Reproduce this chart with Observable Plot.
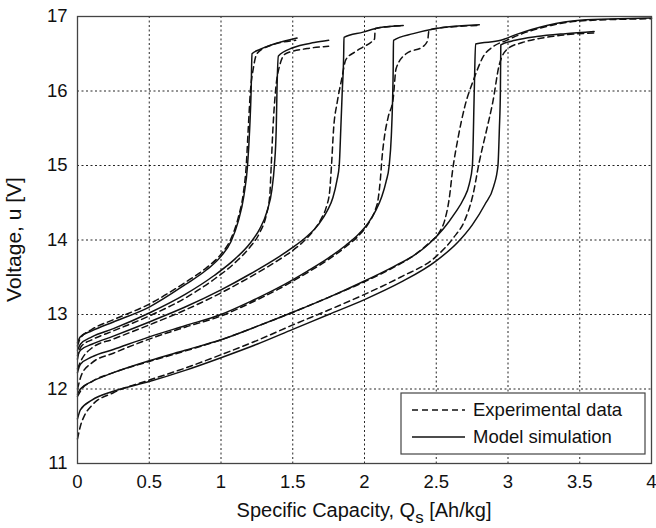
<!DOCTYPE html>
<html><head><meta charset="utf-8">
<script src="https://cdn.jsdelivr.net/npm/d3@7"></script>
<script src="https://cdn.jsdelivr.net/npm/@observablehq/plot@0.6"></script>
<style>body{margin:0;background:#fff}</style>
</head><body><div id="chart"></div>
<script>
// ---- data (Q in Ah/kg, V in volts) ----
const xTicks = [0, 0.5, 1, 1.5, 2, 2.5, 3, 3.5, 4];
const yTicks = [11, 12, 13, 14, 15, 16, 17];
const legendLabels = ["Experimental data", "Model simulation"];

const modA = [[0,12.62],[0.02,12.7],[0.1,12.78],[0.25,12.9],[0.5,13.1],[0.75,13.4],[0.9,13.6],[1.0,13.78],[1.07,13.98],[1.12,14.25],[1.16,14.6],[1.185,15.0],[1.2,15.5],[1.21,16.0],[1.216,16.5],[1.274,16.56],[1.37,16.63],[1.53,16.71]];
const expA = [[0,12.58],[0.02,12.68],[0.1,12.8],[0.25,12.93],[0.5,13.14],[0.75,13.43],[0.9,13.63],[1.0,13.81],[1.07,14.02],[1.12,14.3],[1.155,14.62],[1.176,15.0],[1.19,15.5],[1.205,16.0],[1.225,16.3],[1.25,16.5],[1.33,16.6],[1.52,16.68]];
const modB = [[0,12.52],[0.02,12.6],[0.1,12.7],[0.25,12.81],[0.5,13.02],[0.75,13.27],[0.95,13.52],[1.1,13.75],[1.2,13.95],[1.27,14.15],[1.32,14.38],[1.355,14.68],[1.372,15.0],[1.385,15.5],[1.39,16.0],[1.4,16.47],[1.5,16.58],[1.65,16.65],[1.75,16.68]];
const expB = [[0,12.4],[0.01,12.5],[0.03,12.58],[0.1,12.66],[0.25,12.78],[0.5,12.98],[0.75,13.22],[0.95,13.47],[1.1,13.7],[1.2,13.9],[1.27,14.1],[1.315,14.33],[1.34,14.6],[1.35,15.0],[1.362,15.5],[1.38,16.0],[1.41,16.35],[1.45,16.5],[1.6,16.57],[1.75,16.6]];
const modC = [[0,12.45],[0.02,12.52],[0.1,12.6],[0.25,12.71],[0.5,12.9],[0.75,13.1],[1.0,13.33],[1.2,13.54],[1.4,13.77],[1.5,13.9],[1.6,14.05],[1.68,14.21],[1.74,14.39],[1.78,14.57],[1.808,14.8],[1.824,15.0],[1.835,15.5],[1.845,16.0],[1.855,16.5],[1.857,16.72],[1.99,16.79],[2.1,16.85],[2.27,16.88]];
const expC = [[0,12.27],[0.03,12.4],[0.1,12.55],[0.25,12.67],[0.5,12.86],[0.75,13.06],[1.0,13.29],[1.2,13.5],[1.4,13.73],[1.5,13.86],[1.58,13.99],[1.65,14.14],[1.7,14.29],[1.735,14.45],[1.757,14.65],[1.77,15.0],[1.785,15.5],[1.81,15.85],[1.84,16.15],[1.87,16.42],[1.93,16.52],[1.99,16.59],[2.05,16.66],[2.07,16.7],[2.075,16.84],[2.15,16.86],[2.27,16.88]];
const modD = [[0,12.22],[0.02,12.33],[0.1,12.43],[0.25,12.53],[0.5,12.7],[0.75,12.85],[1.0,13.0],[1.2,13.17],[1.4,13.36],[1.6,13.58],[1.75,13.76],[1.87,13.93],[1.96,14.08],[2.03,14.24],[2.08,14.4],[2.12,14.58],[2.15,14.78],[2.172,15.0],[2.187,15.4],[2.196,15.9],[2.2,16.3],[2.202,16.68],[2.34,16.77],[2.5,16.84],[2.8,16.89]];
const expD = [[0,12.0],[0.03,12.2],[0.1,12.35],[0.25,12.48],[0.5,12.67],[0.75,12.83],[1.0,12.98],[1.2,13.15],[1.4,13.34],[1.6,13.56],[1.75,13.74],[1.87,13.91],[1.96,14.06],[2.03,14.23],[2.07,14.38],[2.095,14.55],[2.11,14.8],[2.122,15.1],[2.14,15.4],[2.165,15.65],[2.2,15.9],[2.22,16.3],[2.29,16.5],[2.41,16.6],[2.44,16.68],[2.45,16.82],[2.6,16.86],[2.8,16.88]];
const modE = [[0,11.93],[0.02,12.0],[0.1,12.1],[0.25,12.22],[0.5,12.38],[0.75,12.52],[1.0,12.66],[1.25,12.84],[1.5,13.03],[1.75,13.23],[2.0,13.45],[2.2,13.64],[2.35,13.8],[2.45,13.95],[2.55,14.15],[2.63,14.36],[2.69,14.55],[2.73,14.75],[2.752,15.0],[2.765,16.0],[2.774,16.63],[2.95,16.68],[3.06,16.76],[3.27,16.88],[3.5,16.95],[4.0,16.98]];
const expE = [[0,11.9],[0.03,12.0],[0.1,12.1],[0.25,12.22],[0.5,12.37],[0.75,12.51],[1.0,12.66],[1.25,12.84],[1.5,13.03],[1.75,13.23],[2.0,13.44],[2.2,13.63],[2.35,13.8],[2.45,13.96],[2.52,14.1],[2.56,14.27],[2.59,14.55],[2.615,14.95],[2.65,15.35],[2.7,15.8],[2.76,16.15],[2.83,16.47],[2.9,16.6],[2.99,16.68],[3.1,16.77],[3.3,16.88],[3.5,16.94],[4.0,16.97]];
const modF = [[0,11.6],[0.02,11.72],[0.1,11.85],[0.25,11.97],[0.5,12.1],[0.75,12.25],[1.0,12.42],[1.25,12.6],[1.5,12.8],[1.75,13.0],[2.0,13.2],[2.25,13.43],[2.5,13.72],[2.65,13.97],[2.75,14.2],[2.84,14.48],[2.9,14.72],[2.93,15.0],[2.94,15.5],[2.947,16.0],[2.95,16.62],[3.05,16.68],[3.2,16.73],[3.4,16.77],[3.6,16.8]];
const expF = [[0,11.33],[0.02,11.5],[0.05,11.65],[0.1,11.78],[0.25,11.95],[0.5,12.12],[0.75,12.28],[1.0,12.46],[1.25,12.65],[1.5,12.86],[1.75,13.06],[2.0,13.27],[2.25,13.5],[2.5,13.78],[2.62,14.03],[2.7,14.27],[2.755,14.6],[2.8,15.05],[2.85,15.47],[2.895,15.86],[2.94,16.36],[3.0,16.57],[3.1,16.65],[3.3,16.73],[3.6,16.78]];

const expSeries = {A: expA, B: expB, C: expC, D: expD, E: expE, F: expF};
const modSeries = {A: modA, B: modB, C: modC, D: modD, E: modE, F: modF};
const toRows = (obj) => Object.entries(obj).flatMap(([id, pts]) => pts.map(([q, v]) => ({id, q, v})));
const expRows = toRows(expSeries);
const modRows = toRows(modSeries);

const FONT = "'Liberation Sans', Arial, Helvetica, sans-serif";
const W = 656, H = 528;

const chart = Plot.plot({
  width: W, height: H,
  marginLeft: 77, marginRight: 5, marginTop: 16, marginBottom: 65,
  style: {fontFamily: FONT, fontSize: "18px", background: "#fff", color: "#111"},
  x: {domain: [0, 4]},
  y: {domain: [11, 17]},
  marks: [
    Plot.gridX(xTicks.slice(1, -1), {stroke: "#000", strokeOpacity: 0.85, strokeWidth: 1, strokeDasharray: "2,2.5"}),
    Plot.gridY(yTicks.slice(1, -1), {stroke: "#000", strokeOpacity: 0.85, strokeWidth: 1, strokeDasharray: "2,2.5"}),
    Plot.line(expRows, {x: "q", y: "v", z: "id", curve: "monotone-x", stroke: "#111", strokeWidth: 1.5, strokeDasharray: "6,4"}),
    Plot.line(modRows, {x: "q", y: "v", z: "id", curve: "monotone-x", stroke: "#111", strokeWidth: 1.5}),
    Plot.frame({stroke: "#444", strokeWidth: 1.3}),
    Plot.axisX(xTicks, {tickSize: 0, tickPadding: 11, tickFormat: d => String(d), label: null, fontSize: 18.5}),
    Plot.axisY(yTicks, {tickSize: 0, tickPadding: 10, tickFormat: d => String(d), label: null, fontSize: 18.5})
  ]
});

document.getElementById("chart").appendChild(chart);

const svg = d3.select(chart);
const xs = chart.scale("x"), ys = chart.scale("y");
const midX = (xs.range[0] + xs.range[1]) / 2;
const midY = (ys.range[0] + ys.range[1]) / 2;

// x-axis title with subscript
const xt = svg.append("text")
  .attr("x", midX).attr("y", 517)
  .attr("text-anchor", "middle")
  .attr("font-family", FONT).attr("font-size", 20).attr("fill", "#111");
xt.append("tspan").text("Specific Capacity, Q");
xt.append("tspan").attr("dy", 6).attr("font-size", 17).text("s");
xt.append("tspan").attr("dy", -6).text(" [Ah/kg]");

// y-axis title
svg.append("text")
  .attr("transform", `translate(21,${midY}) rotate(-90)`)
  .attr("text-anchor", "middle")
  .attr("font-family", FONT).attr("font-size", 21).attr("fill", "#111")
  .text("Voltage, u [V]");

// legend box
const lg = svg.append("g").attr("text-anchor", "start");
lg.append("rect").attr("x", 401).attr("y", 393).attr("width", 244).attr("height", 61)
  .attr("fill", "#fff").attr("stroke", "#444").attr("stroke-width", 1.2);
const rows = [{y: 410, dash: "6,4"}, {y: 437, dash: null}];
rows.forEach((r, i) => {
  lg.append("line").attr("x1", 412).attr("x2", 465).attr("y1", r.y).attr("y2", r.y)
    .attr("stroke", "#111").attr("stroke-width", 1.5).attr("stroke-dasharray", r.dash);
  lg.append("text").attr("x", 473).attr("y", r.y).attr("dy", "0.35em")
    .attr("text-anchor", "start")
    .attr("font-family", FONT).attr("font-size", 18.5).attr("fill", "#111")
    .text(legendLabels[i]);
});
</script></body></html>
